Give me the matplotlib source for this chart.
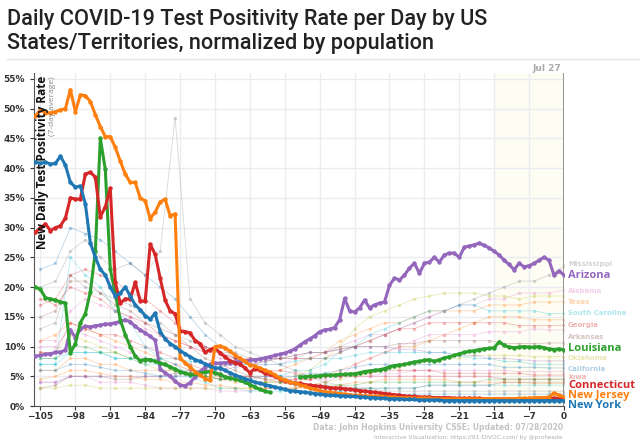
import numpy as np
import matplotlib.pyplot as plt

# days relative to Jul 27
days = np.arange(-106, 1)
faint_days = np.arange(-105, 1, 3)

new_jersey = [
    48.8, 49.8, 49.3, 49.3, 49.5, 49.8, 50.0, 53.2, 49.5, 52.3, 52.2, 51.2, 49.0, 47.0, 45.3,
    45.3, 43.5, 41.2, 39.0, 37.6, 37.6, 35.0, 34.5, 31.5, 32.6, 34.3, 34.8, 32.0, 32.3,
    8.0, 7.3, 6.5, 5.8, 5.2, 4.6, 4.3, 10.0,
    10.1, 9.8, 9.2, 8.6, 8.0, 7.5, 6.9, 6.7, 6.4, 6.0, 5.7, 5.2, 4.7, 4.4, 4.0, 3.9, 3.6, 3.3,
    3.0, 2.8, 2.6, 2.4,
    2.3, 2.2, 2.1, 2.0, 1.9, 1.8, 1.8, 1.7, 1.7, 1.6, 1.6, 1.5, 1.5, 1.5, 1.4, 1.4, 1.4, 1.3,
    1.3, 1.3, 1.3, 1.2, 1.2, 1.2, 1.2, 1.2, 1.2, 1.2, 1.2, 1.2, 1.2, 1.2, 1.2, 1.2, 1.2, 1.2,
    1.2, 1.2, 1.3, 1.3, 1.3, 1.4, 1.4, 1.4, 1.5, 2.2, 1.8, 1.5,
]
new_york = [
    41.0, 40.8, 41.0, 40.7, 40.8, 42.0, 40.5, 37.6, 36.8, 37.0, 34.0, 27.4, 25.0, 23.0, 22.0,
    20.0, 18.5, 19.0, 20.0, 18.5, 17.0, 16.2, 15.2, 14.6, 15.6, 12.5, 11.3, 10.5, 10.0,
    9.3, 8.8, 8.3, 7.8, 7.5, 7.1, 6.7, 6.4,
    6.4, 6.0, 5.6, 5.2, 4.9, 4.6, 4.3, 4.0, 3.8, 3.6, 3.4, 3.2, 3.0, 2.8, 2.6, 2.5, 2.4, 2.3,
    2.2, 2.1, 2.0, 1.9,
    1.8, 1.8, 1.7, 1.7, 1.6, 1.6, 1.5, 1.5, 1.4, 1.4, 1.3, 1.3, 1.2, 1.2, 1.2, 1.1, 1.1, 1.1,
    1.0, 1.0, 1.0, 1.0, 1.0, 0.9, 0.9, 0.9, 0.9, 0.9, 0.9, 0.9, 0.9, 0.9, 0.9, 0.9, 0.9, 0.9,
    0.9, 0.9, 0.9, 0.9, 0.9, 0.9, 0.9, 0.9, 0.9, 0.9, 0.9, 0.9,
]
connecticut = [
    29.2, 30.0, 30.6, 29.5, 30.0, 30.3, 31.6, 35.0, 34.8, 34.8, 39.0, 39.3, 38.5, 31.8, 33.5,
    36.6, 20.8, 17.3, 18.0, 18.0, 20.8, 17.7, 17.6, 27.2, 25.5, 21.5, 17.8, 16.0, 15.5,
    12.6, 12.5, 12.3, 11.0, 10.5, 9.0, 9.5, 9.8,
    8.9, 8.3, 7.6, 7.3, 7.0, 6.4, 5.6, 6.3, 6.0, 5.5, 5.3, 5.0, 4.6, 4.2, 4.0, 3.8, 3.8, 3.6,
    3.5, 3.4, 3.3, 3.2,
    3.1, 3.0, 3.0, 2.9, 2.8, 2.7, 2.6, 2.5, 2.4, 2.3, 2.2, 2.1, 2.0, 1.9, 1.8, 1.7, 1.6, 1.6,
    1.5, 1.5, 1.5, 1.4, 1.4, 1.4, 1.4, 1.3, 1.3, 1.3, 1.3, 1.3, 1.3, 1.2, 1.2, 1.2, 1.2, 1.2,
    1.2, 1.2, 1.2, 1.2, 1.2, 1.2, 1.2, 1.3, 1.3, 1.3, 1.3, 1.3,
]
louisiana = [
    20.0, 19.6, 18.2, 18.0, 17.8, 17.5, 17.3, 8.9, 10.5, 14.0, 15.5, 19.2, 26.0, 45.0, 39.8,
    23.0, 19.0, 14.5, 12.0, 10.0, 8.4, 7.6, 7.8, 7.8, 7.5, 7.2, 7.0, 6.6, 6.2,
    5.8, 5.5, 5.3, 5.3, 5.5, 5.7, 5.8, 5.6,
    5.3, 4.9, 4.7, 4.5, 4.3, 4.0, 3.6, 3.2, 2.8, 2.5, 2.3, np.nan, np.nan, np.nan, np.nan,
    np.nan, 4.9, 4.9, 5.0, 5.0, 5.1, 5.2,
    5.2, 5.2, 5.3, 5.3, 5.4, 5.4, 5.6, 5.8, 5.9, 6.0, 6.1, 6.3, 6.6, 6.8, 6.9, 7.0, 7.2, 7.4,
    7.5, 7.7, 7.8, 7.5, 7.8, 8.1, 8.3, 8.5, 8.8, 9.0, 9.2, 9.3, 9.5, 9.6, 9.7, 9.8, 10.8, 10.2,
    9.9, 9.8, 9.9, 10.0, 9.9, 9.9, 10.0, 9.8, 9.6, 9.5, 9.6, 9.4,
]
arizona = [
    8.4, 8.5, 8.7, 8.8, 9.0, 9.1, 9.4, 12.8, 11.5, 13.0, 13.4, 13.3, 13.5, 13.6, 13.8,
    13.8, 14.0, 14.2, 14.5, 14.2, 13.4, 12.8, 12.3, 11.7, 11.1, 6.2, 5.6, 5.0, 4.2,
    3.5, 3.4, 3.9, 4.9, 5.8, 6.5, 7.0, 7.2,
    7.2, 7.3, 7.3, 7.4, 7.5, 7.6, 7.7, 7.8, 7.9, 8.1, 8.3, 8.5, 8.7, 8.9, 9.2, 9.6, 10.2, 10.8,
    11.3, 11.8, 12.5, 12.8,
    12.9, 13.2, 14.5, 18.1, 16.0, 15.8, 16.5, 17.8, 16.5, 17.0, 17.3, 17.5, 20.3, 21.5, 21.2,
    22.0, 23.2, 24.0, 22.3, 24.0, 24.2, 25.0, 24.2, 25.4, 25.7, 25.7, 25.0, 26.7, 26.9, 27.1,
    27.4, 27.0, 26.6, 26.0, 25.4, 24.5, 23.8, 22.9, 24.0, 23.4, 23.6, 24.0, 24.5, 25.0, 24.5,
    22.0, 22.7, 22.0,
]

main_names = ["Arizona", "Louisiana", "Connecticut", "New Jersey", "New York"]
main_values = [arizona, louisiana, connecticut, new_jersey, new_york]
main_colors = ["#9467bd", "#2ca02c", "#d62728", "#ff7f0e", "#1f77b4"]
main_label_y = [22.0, 9.7, 3.5, 1.8, 0.1]

# other states, every third day
faint = {
    "Mississippi": [13, 14, 22, 20, 19, 18, 17, 15, 14, 12, 11, 10, 9, 9, 8, 8, 8, 8, 9, 9, 10, 10, 11, 12, 13, 14, 15, 16, 17, 18, 19, 20, 21, 21, 22, 23.5],
    "Alabama": [11, 11, 16, 18, 17, 16, 15, 13, 12, 11, 10, 9, 8, 8, 7, 7, 7, 8, 8, 9, 10, 11, 12, 12, 13, 14, 15, 16, 17, 17, 18, 18, 19, 19, 19, 19.5],
    "Florida": [9, 9, 12, 11, 10, 9, 8, 7, 6, 6, 5, 5, 4.5, 4.5, 4, 4, 4.5, 5, 6, 8, 10, 13, 15, 16, 17, 18, 18.5, 19, 19, 19, 18.5, 18.5, 18, 18.5, 18.5, 18.5],
    "Texas": [6, 6, 8, 8, 7, 7, 6, 6, 6, 6, 5.5, 5, 5, 5, 5, 5, 6, 7, 8, 9, 11, 12, 13, 14, 14, 15, 16, 16, 16, 16, 17, 17, 17, 17.5, 17.5, 17.5],
    "South Carolina": [7, 7, 9, 9, 9, 8, 8, 7, 7, 6, 6, 6, 5, 5, 5, 5, 5, 6, 6, 7, 9, 10, 12, 13, 14, 15, 16, 16, 17, 17, 16, 16, 16, 16, 15.5, 15.6],
    "Nevada": [11, 12, 14, 13, 12, 11, 10, 9, 8, 7, 6, 5, 4.5, 4, 4, 4, 4, 4, 4.5, 5, 6, 7, 8, 9, 10, 10, 11, 12, 13, 14, 15, 15, 15, 14.5, 14.5, 14.5],
    "Georgia": [18, 17, 20, 19, 18, 16, 15, 14, 12, 11, 10, 9, 9, 8, 8, 8, 8, 8, 8, 8, 9, 10, 11, 12, 13, 13, 14, 14, 14, 14, 14, 14, 13.5, 13.5, 13.5, 13.6],
    "Idaho": [4, 4, 5, 5, 4, 4, 4, 3.5, 3, 3, 3, 3, 2.5, 2.5, 2.5, 3, 3, 3, 3.5, 4, 5, 7, 8, 9, 10, 11, 12, 12, 12, 12, 12.5, 12.5, 12.5, 13, 12.8, 12.8],
    "Arkansas": [3, 3.5, 5, 5, 5, 4.5, 4.5, 5, 5, 5.5, 6, 6, 6.5, 7, 7, 7.5, 8, 8.5, 9, 9, 9.5, 10, 10, 10, 10.5, 10.5, 11, 11, 11, 11, 11, 10.5, 10.5, 10.5, 10.6, 10.6],
    "Rhode Island": [20, 21, 26, 28, 25, 23, 24, 22, 26, 48.5, 18, 14, 12, 10, 9, 8, 7, 6, 5, 4, 3.5, 3, 3, 2.5, 2.5, 2.5, 2.5, 2.5, 2.5, 2.5, 2.5, 2.5, 2.5, 2.5, 2.5, 2.5],
    "Massachusetts": [23, 24, 30, 29, 28, 26, 24, 22, 20, 18, 15, 12, 10, 8, 7, 6, 5, 4, 3.5, 3, 2.5, 2.5, 2.2, 2, 2, 2, 2, 2, 2, 2, 2, 2, 2, 2, 2, 2],
    "Maryland": [17, 18, 22, 23, 22, 21, 19, 18, 16, 14, 12, 10, 9, 8, 7, 6, 6, 5.5, 5, 5, 5, 5, 5, 5, 5, 5, 5, 5, 5, 5, 5, 4.5, 4.5, 4.5, 4.5, 4.5],
    "Oklahoma": [3, 3, 3.5, 3.5, 3, 3, 3, 3, 3, 3, 3, 3, 3, 3, 3, 3, 3, 3, 3.5, 4, 4.5, 5, 5.5, 6, 6.5, 7, 7.5, 8, 8, 8.5, 8.5, 8.5, 8.5, 8.3, 8.3, 8.3],
    "Utah": [4, 4, 5, 5, 5, 5, 5, 5, 5, 5, 5.5, 6, 6, 6.5, 7, 7.5, 8, 8.5, 9, 9, 9.5, 10, 10, 10, 9.5, 9.5, 9, 9, 8.5, 8.5, 8, 8, 7.8, 7.6, 7.6, 7.6],
    "North Carolina": [8, 8, 9, 9, 9, 8, 8, 8, 8, 8, 7.5, 7, 7, 7, 7, 7, 7, 7.5, 8, 8, 8, 8.5, 9, 9, 9, 9, 9, 9, 8.5, 8, 8, 7.5, 7.5, 7, 7, 7],
    "California": [6, 6, 7, 7, 6.5, 6, 6, 5.5, 5, 5, 5, 5, 4.5, 4.5, 4.5, 5, 5, 5, 5.5, 5.5, 6, 6.5, 7, 7, 7, 7, 7, 7, 7, 7, 7, 6.5, 6.5, 6.5, 6.4, 6.4],
    "Missouri": [10, 10, 13, 12, 11, 10, 9, 8, 7, 7, 6, 6, 5.5, 5, 5, 5, 4.5, 4.5, 4.5, 4.5, 5, 5, 5, 5.5, 5.5, 6, 6, 6, 6, 6, 6, 6, 5.8, 5.8, 5.8, 5.8],
    "Iowa": [9, 9, 14, 13, 12, 12, 11, 10, 9, 8, 7, 6, 5, 5, 5, 4.5, 4.5, 4.5, 4.5, 5, 5, 5.5, 5.5, 6, 6, 6, 6, 5.5, 5.5, 5.5, 5.5, 5.5, 5.5, 5.2, 5.2, 5.2],
    "Washington": [4.5, 5, 6, 6, 5.5, 5, 5, 4.5, 4.5, 4, 4, 3.5, 3.5, 3, 3, 3, 3, 3, 3, 3, 3.5, 4, 4, 4.5, 4.5, 4.5, 4.5, 4.5, 4, 4, 4, 4, 4, 3.8, 3.8, 3.8],
    "Illinois": [15, 16, 21, 21, 19, 17, 16, 14, 13, 12, 10, 8, 7, 6, 5, 4.5, 4, 3.5, 3, 3, 3, 3, 3, 3, 3, 3, 3.5, 3.5, 3.5, 3.5, 3.5, 4, 4, 4, 4, 4],
    "Pennsylvania": [8, 8, 10, 10, 9, 9, 8, 8, 7, 6, 5, 5, 4.5, 4.5, 4, 4, 4, 4, 3.5, 3.5, 3.5, 3.5, 4, 4, 4, 4, 4, 4, 4, 4, 4.5, 4.5, 4.5, 4.5, 4.5, 4.5],
    "Michigan": [7, 7, 25, 22, 20, 16, 14, 10, 8, 7, 5, 4, 3, 3, 2.5, 2.5, 2.5, 2.5, 2.5, 2.5, 2.5, 3, 3, 3, 3, 3, 3.5, 3.5, 3.5, 3.5, 3.5, 3.5, 3.5, 3.5, 3.5, 3.5],
}
faint_colors = ["#7f7f7f", "#e377c2", "#bcbd22", "#ff7f0e", "#17becf", "#ff7f0e", "#d62728",
                "#e377c2", "#8c564b", "#7f7f7f", "#1f77b4", "#d62728", "#bcbd22", "#9467bd",
                "#17becf", "#1f77b4", "#e377c2", "#d62728", "#ff7f0e", "#8c564b", "#2ca02c",
                "#17becf"]
# faint end labels, spaced so they stay legible
faint_labels = ["Mississippi", "Alabama", "Texas", "South Carolina", "Georgia", "Arkansas",
                "Oklahoma", "California", "Iowa"]
faint_label_y = [23.8, 19.4, 17.5, 15.6, 13.6, 11.6, 8.0, 6.3, 4.8]

yticks = np.arange(0, 56, 5)
xticks = np.arange(-105, 1, 7)

fig = plt.figure(figsize=(6.4, 4.43), dpi=100)
W, H = 640, 443

# title
fig.text(7 / W, 1 - 9 / H, "Daily COVID-19 Test Positivity Rate per Day by US",
         fontsize=15.6, family="Roboto", fontweight="medium", color="#222222", va="top")
fig.text(7 / W, 1 - 33 / H, "States/Territories, normalized by population",
         fontsize=15.6, family="Roboto", fontweight="medium", color="#222222", va="top")
fig.add_artist(plt.Line2D([7 / W, 1], [1 - 59 / H, 1 - 59 / H], color="#e4e4e4", lw=1))

ax = fig.add_axes([34 / W, 1 - 406 / H, 530 / W, 333 / H])
ax.set_xlim(-106.3, 0)
ax.set_ylim(0, 56)
ax.axvspan(-14, 0, color="#fdfdf3", zorder=0)
ax.set_xticks(xticks)
ax.set_yticks(yticks)
ax.set_yticklabels([f"{v}%" for v in yticks])
ax.grid(True, color="#ebebf2", lw=1)
ax.set_axisbelow(True)
for s in ["top", "right"]:
    ax.spines[s].set_visible(False)
ax.spines["left"].set_color("#555555")
ax.spines["bottom"].set_color("#555555")
ax.tick_params(labelsize=6.5, colors="#333333", length=3, width=0.8)
ax.tick_params(axis="x", pad=1.5)
for lab in ax.get_xticklabels() + ax.get_yticklabels():
    lab.set_fontweight("bold")

for (name, vals), col in zip(faint.items(), faint_colors):
    ax.plot(faint_days, vals, color=col, lw=0.6, alpha=0.3, marker="o", ms=2.5,
            mec="none", zorder=1)
    if name in faint_labels:
        ax.text(0.8, faint_label_y[faint_labels.index(name)], name, color=col, alpha=0.35,
                fontsize=5, fontweight="bold", va="center", clip_on=False)

for name, vals, col, ly in zip(main_names, main_values, main_colors, main_label_y):
    ax.plot(days, vals, color=col, lw=2.2, marker="o", ms=3.2, mec="none", zorder=3)
    ax.text(0.8, ly, name, color=col, fontsize=8, family="Open Sans",
            fontweight="bold", va="center", clip_on=False, zorder=4)

ax.axvline(0, color="#999999", lw=1.5, zorder=2)
ax.text(-0.6, 56, "Jul 27", ha="right", va="bottom", fontsize=6.5, color="#aaaaaa",
        fontweight="bold", clip_on=False)

fig.text(43 / W, 1 - 76 / H, "New Daily Test Positivity Rate", rotation=90, ha="center",
         va="top", fontsize=8.5, fontweight="bold", family="Open Sans", color="#111111")
fig.text(52 / W, 1 - 76 / H, "(7-day average)", rotation=90, ha="center", va="top",
         fontsize=6, family="Open Sans", color="#888888")

fig.text(563 / W, 1 - 427 / H, "Data: John Hopkins University CSSE; Updated: 07/28/2020",
         ha="right", va="center", fontsize=5.5, fontweight="bold", color="#c4c4c4")
fig.text(563 / W, 1 - 438 / H, "Interactive Visualization: https://91-DIVOC.com/ by @profwade",
         ha="right", va="center", fontsize=4.3, color="#b0b0b0")

fig.savefig("out.png", dpi=100)
